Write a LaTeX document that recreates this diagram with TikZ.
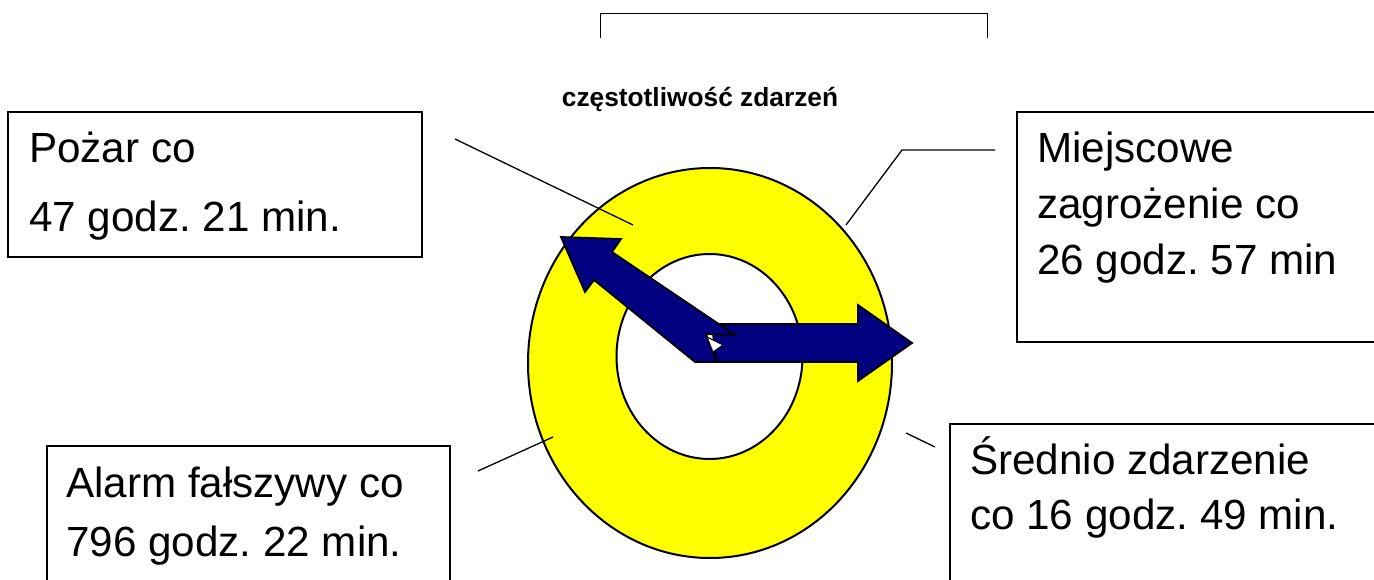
\documentclass[tikz,border=0pt]{standalone}
\usepackage{fontspec}
\setmainfont{Liberation Sans}
\usetikzlibrary{shapes.geometric}
\definecolor{navyblue}{HTML}{000080}
\definecolor{donutyellow}{HTML}{FFFF00}
\frenchspacing
\begin{document}
\frenchspacing
\begin{tikzpicture}[x=1pt,y=-1pt,
  boxnode/.style={draw, line width=1.5pt, inner sep=0pt, outer sep=0pt, anchor=north west},
  txt/.style={anchor=base west, inner sep=0pt, font=\fontsize{42.2}{50}\selectfont\frenchspacing},
  leader/.style={line width=1.3pt},
  arrowshape/.style={fill=navyblue, draw=black, line width=1.8pt, line join=miter},
  ring/.style={ellipse, draw=black, line width=2pt, inner sep=0pt, outer sep=0pt}]
\useasboundingbox (0,0) rectangle (1374,580);
\begin{scope}
\clip (0,0) rectangle (1374,580);

% bracket
\coordinate (bl) at (600,38);
\coordinate (blt) at (600,14);
\coordinate (brt) at (987,14);
\coordinate (br) at (987,38);
\draw[line width=1pt] (bl) -- (blt) -- (brt) -- (br);

% title
\node[anchor=base, inner sep=0pt, font=\bfseries\fontsize{26.3}{30}\selectfont] (title) at (700,106.5) {częstotliwość zdarzeń};

% donut
\node[ring, fill=donutyellow, minimum width=364pt, minimum height=390pt] (outer) at (710,363) {};
\node[ring, fill=white, minimum width=186pt, minimum height=205pt] (inner) at (709.5,356.5) {};

% arrows
\draw[arrowshape] (712,324) -- (858,324) -- (858,305) -- (912,343) -- (858,381) -- (858,362) -- (716,362) -- cycle;
\draw[arrowshape] (561,237) -- (621,239) -- (612,252) -- (735,335) -- (706,334) -- (717,362) -- (695,362) -- (594,280) -- (585,292) -- cycle;
\filldraw[fill=white, draw=black, line width=1pt] (707,337) -- (723,345) -- (713,352) -- cycle;

% boxes
\node[boxnode, minimum width=414pt, minimum height=145pt] (pozarbox) at (8,112) {};
\node[boxnode, minimum width=400pt, minimum height=230pt] (miejbox) at (1017,112) {};
\node[boxnode, minimum width=403pt, minimum height=200pt] (alarmbox) at (47,446) {};
\node[boxnode, minimum width=450pt, minimum height=200pt] (sredbox) at (950,424) {};

% texts
\node[txt] (pozar1) at (29,163) {Pożar co};
\node[txt] (pozar2) at (29,232) {47 godz. 21 min.};
\node[txt] (miej1) at (1037,163) {Miejscowe};
\node[txt] (miej2) at (1037,218.5) {zagrożenie co};
\node[txt] (miej3) at (1037,275) {26 godz. 57 min};
\node[txt] (alarm1) at (66,497.5) {Alarm fałszywy co};
\node[txt] (alarm2) at (66,556) {796 godz. 22 min.};
\node[txt] (sred1) at (970,474) {Średnio zdarzenie};
\node[txt] (sred2) at (970,529) {co 16 godz. 49 min.};

% leader lines
\coordinate (pa) at (455,139);
\coordinate (pb) at (633,225);
\draw[leader] (pa) -- (pb);
\coordinate (ma) at (846,225);
\coordinate (mb) at (902,150);
\coordinate (mc) at (995,150);
\draw[leader] (ma) -- (mb) -- (mc);
\coordinate (aa) at (478,471);
\coordinate (ab) at (553,437);
\draw[leader] (aa) -- (ab);
\coordinate (sa) at (906,433);
\coordinate (sb) at (935,447);
\draw[leader] (sa) -- (sb);
\end{scope}
\end{tikzpicture}
\end{document}
